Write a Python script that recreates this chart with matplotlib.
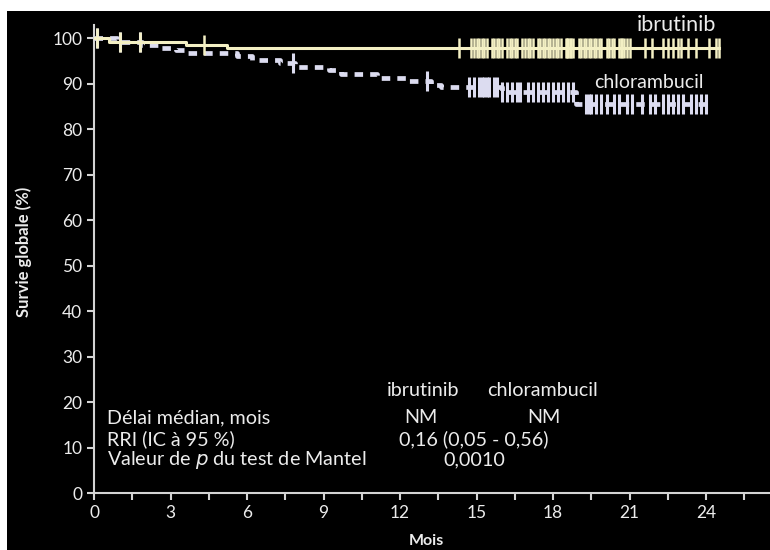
import numpy as np
import matplotlib.pyplot as plt
from matplotlib.patches import Rectangle

plt.rcParams['font.family'] = ['Lato', 'DejaVu Sans']

# Kaplan-Meier steps: time of each drop (months) and survival after it (%)
ibru_times = [0, 0.6, 3.6, 5.2, 24.5]
ibru_surv = [100, 99.2, 98.6, 97.9, 97.9]

chlor_times = [0, 0.9, 1.9, 2.5, 3.2, 3.7, 5.6, 6.2, 7.3, 7.9, 9.2, 9.7, 11.1,
               12.3, 13.2, 13.6, 16.0, 18.9, 24.0]
chlor_surv = [100, 99.2, 98.4, 97.9, 97.3, 96.7, 96.0, 95.2, 94.5, 93.7, 92.9,
              92.1, 91.3, 90.5, 89.8, 89.2, 88.2, 85.6, 85.6]

# censored patients (months)
ibru_censor = [0.1, 1.0, 1.8, 4.3, 14.3, 14.8, 14.9, 15.0, 15.1, 15.2, 15.3, 15.4,
               15.6, 15.7, 15.8, 15.9, 16.0, 16.2, 16.3, 16.4, 16.5, 16.6, 16.8,
               16.9, 17.0, 17.1, 17.2, 17.4, 17.5, 17.6, 17.7, 17.8, 17.9, 18.0,
               18.1, 18.2, 18.3, 18.5, 18.55, 18.6, 18.65, 18.7, 18.8, 19.0, 19.1,
               19.2, 19.3, 19.4, 19.5, 19.6, 19.7, 19.8, 19.9, 20.1, 20.2, 20.3,
               20.4, 20.6, 20.65, 20.7, 20.8, 20.9, 21.0, 21.6, 21.9, 22.3, 22.5,
               22.7, 22.9, 23.0, 23.3, 23.6, 24.1, 24.4, 24.5]
chlor_censor = [0.1, 1.0, 1.8, 7.8, 13.05, 14.7, 14.9, 15.1, 15.2, 15.3, 15.4,
                15.5, 15.7, 15.8, 16.0, 16.2, 16.4, 16.6, 16.7, 17.0, 17.2, 17.4,
                17.6, 17.8, 18.0, 18.2, 18.4, 18.6, 18.8, 19.3, 19.4, 19.5, 19.7,
                19.9, 20.1, 20.4, 20.6, 20.9, 21.1, 21.5, 21.8, 22.0, 22.3, 22.5,
                22.7, 22.9, 23.1, 23.4, 23.6, 23.8, 24.0]

stats_rows = ['Délai médian, mois', 'RRI (IC à 95 %)',
              'Valeur de $\\it{p}$ du test de Mantel']

ibru_col = '#f4f0c4'
chlor_col = '#dcdcf0'
axis_col = '#d4d4d4'
text_col = '#ececec'

fig = plt.figure(figsize=(7.7, 5.5), dpi=100, facecolor='white')
# black panel, leaving a thin white strip on the top and left
fig.patches.append(Rectangle((7 / 770, 0), 1, 1 - 11 / 550, transform=fig.transFigure,
                             facecolor='black', edgecolor='none', zorder=-10))

ax = fig.add_axes([94 / 770, 57 / 550, 27.5 * 25.5 / 770, 468 / 550])
ax.set_facecolor('none')


def surv_at(times, surv, t):
    idx = np.searchsorted(times, t, side='right') - 1
    return np.array(surv)[idx]


ax.step(ibru_times, ibru_surv, where='post', color=ibru_col, lw=2.2, zorder=3)
ax.plot(ibru_censor, surv_at(ibru_times, ibru_surv, ibru_censor), ls='none',
        marker='|', ms=14, mew=1.8, color=ibru_col, zorder=3)

ax.step(chlor_times, chlor_surv, where='post', color=chlor_col, lw=3.4,
        linestyle=(0, (1.8, 1.5)), dash_capstyle='butt', zorder=2)
ax.plot(chlor_censor, surv_at(chlor_times, chlor_surv, chlor_censor), ls='none',
        marker='|', ms=14, mew=2.2, color=chlor_col, zorder=2)

ax.set_xlim(0, 27.5)
ax.set_ylim(0, 102.9)
ax.set_xticks(np.arange(0, 28, 3))
ax.set_xticks(np.arange(0, 28, 1.5), minor=True)
ax.set_yticks(np.arange(0, 101, 10))

for side in ['top', 'right']:
    ax.spines[side].set_visible(False)
for side in ['left', 'bottom']:
    ax.spines[side].set_color(axis_col)
    ax.spines[side].set_linewidth(1.5)
ax.tick_params(which='both', direction='out', color=axis_col, width=1.5,
               length=5, labelcolor=text_col, labelsize=12.5)
ax.tick_params(axis='x', pad=4)

ax.set_xlabel('Mois', color=text_col, fontsize=11.5, fontweight='bold')
ax.xaxis.set_label_coords(0.474, -0.088)
ax.set_ylabel('Survie globale (%)', color=text_col, fontsize=12, fontweight='bold')
ax.yaxis.set_label_coords(-0.088, 0.515)

# curve labels
ax.text(24.4, 102.9, 'ibrutinib', color=text_col, fontsize=15.5, ha='right',
        va='center', clip_on=False)
ax.text(23.9, 90.3, 'chlorambucil', color=text_col, fontsize=14, ha='right',
        va='center')

# summary table
fs = 14.2
ax.text(12.9, 22.6, 'ibrutinib', color=text_col, fontsize=fs, ha='center', va='center')
ax.text(17.6, 22.6, 'chlorambucil', color=text_col, fontsize=fs, ha='center', va='center')
for row, y in zip(stats_rows, [16.5, 11.9, 7.3]):
    ax.text(0.5, y, row, color=text_col, fontsize=fs, ha='left', va='center')
ax.text(12.8, 16.5, 'NM', color=text_col, fontsize=fs, ha='center', va='center')
ax.text(17.65, 16.5, 'NM', color=text_col, fontsize=fs, ha='center', va='center')
ax.text(14.9, 11.9, '0,16 (0,05 - 0,56)', color=text_col, fontsize=fs,
        ha='center', va='center')
ax.text(14.9, 7.3, '0,0010', color=text_col, fontsize=fs, ha='center', va='center')

fig.savefig('out.png', dpi=100, facecolor=fig.get_facecolor())
